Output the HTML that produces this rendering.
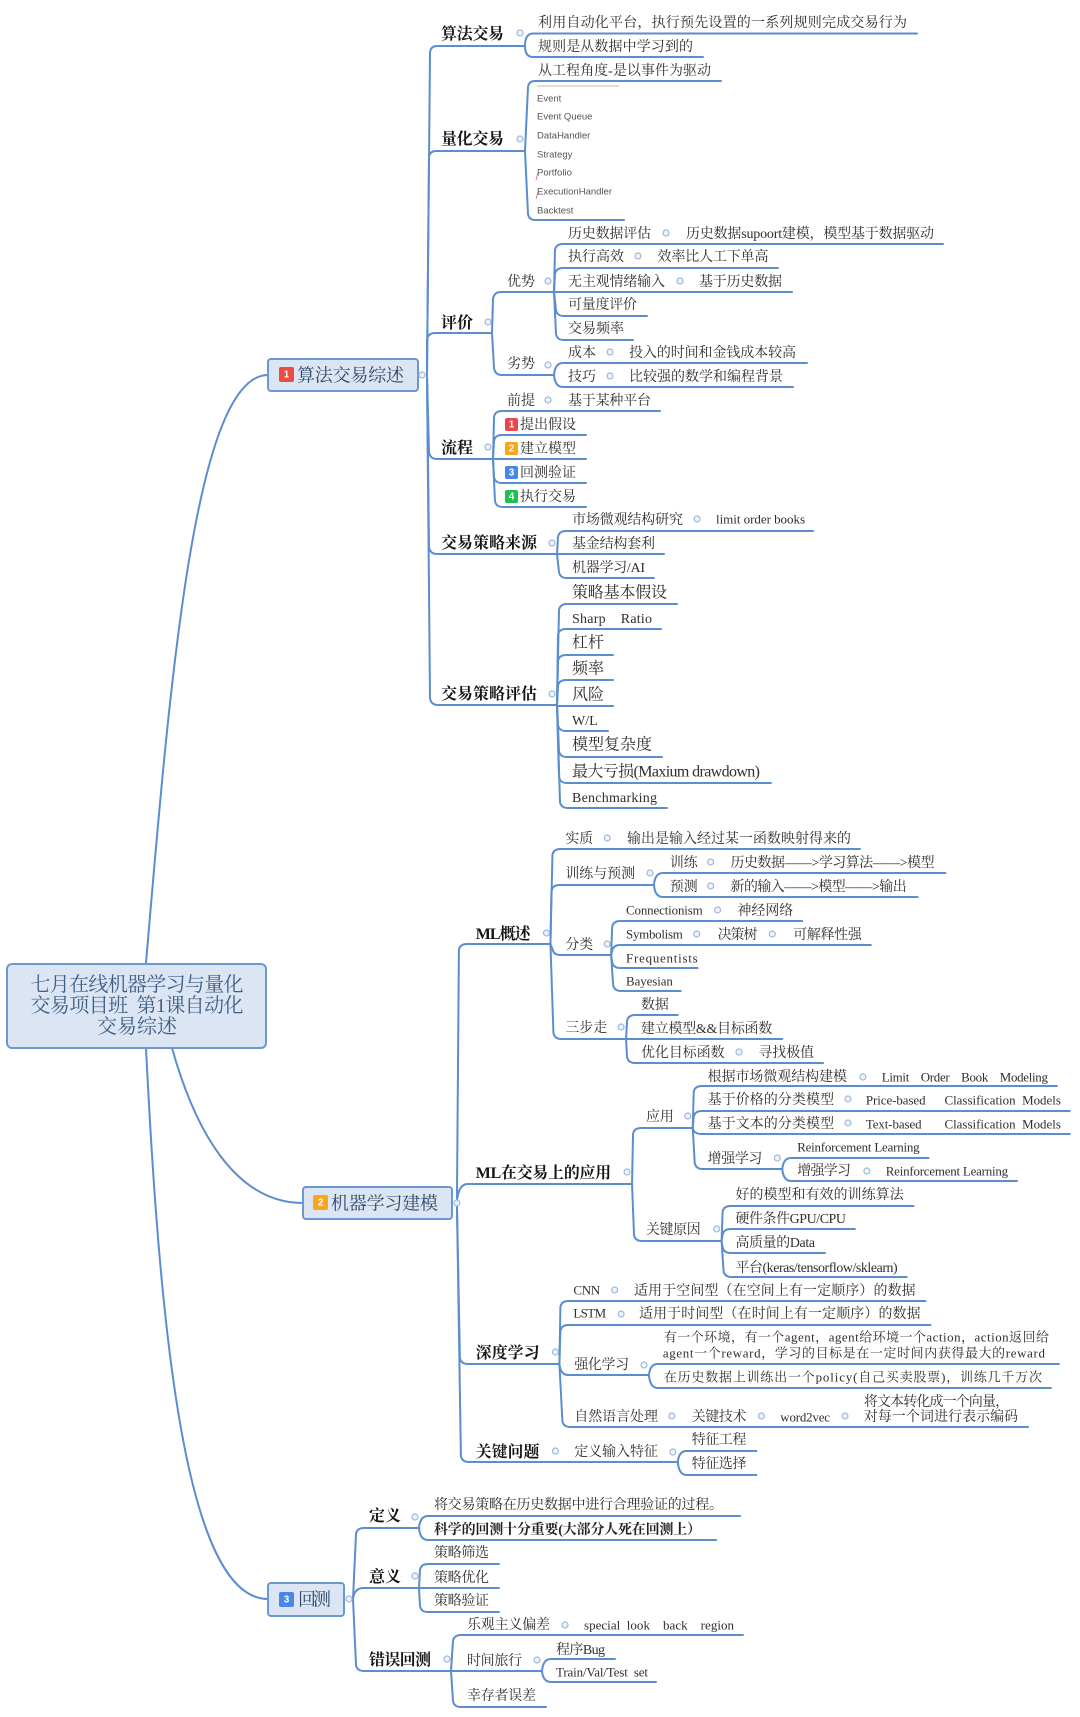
<!DOCTYPE html>
<html lang="zh"><head><meta charset="utf-8"><title>七月在线机器学习与量化交易项目班</title>
<style>
html,body{margin:0;padding:0;background:#fff}
svg{display:block;filter:blur(.35px)}
text{font-family:"Liberation Serif","Noto Serif CJK SC",serif;font-size:14px;fill:#2e2e2e;dominant-baseline:central;white-space:pre;transform:translateY(1.5px)}
.b{font-size:16px;font-weight:700;fill:#151515}
.l{font-size:16px;transform:translateY(1px)}
.s{font-size:13px;transform:none}
.e{font-family:"Liberation Sans",sans-serif;font-size:9.5px;fill:#555;transform:none}
.t{font-size:18px;fill:#2f4a68}
.r{font-size:20px;fill:#3f5f85;text-anchor:middle;transform:translateY(2px)}
.n{font-family:"Liberation Sans",sans-serif;font-size:10px;fill:#fff;text-anchor:middle;font-weight:700;transform:none}
.p path{fill:none;stroke:#5b8dcf;stroke-width:2;stroke-linecap:round}
.c circle{fill:#eef3fa;stroke:#9db8de;stroke-width:1.2}
.box{fill:#dbe5f3;stroke:#6b98d2;stroke-width:2}
</style></head><body>
<svg xmlns="http://www.w3.org/2000/svg" width="1080" height="1717" viewBox="0 0 1080 1717">
<g class="p">
<path d="M146 963C170 680 195 375 268 375"/>
<path d="M172 1048C195 1130 235 1203 303 1203"/>
<path d="M146 1048C160 1330 185 1599 268 1599"/>
<!-- topic 1 -->
<path d="M427 375L430 52Q431 46 437 46H525"/>
<path d="M427 375L429 157Q430 151 436 151H525"/>
<path d="M427 375V340Q428 333 435 333H492"/>
<path d="M427 375L429 452Q430 459 437 459H493"/>
<path d="M427 375L429 547Q430 554 437 554H557"/>
<path d="M427 375L430 698Q431 705 438 705H557"/>
<path d="M525 46Q525 33.5 533 33.5H917"/>
<path d="M525 46Q525 57 533 57H703"/>
<path d="M525 151L528 87Q529 81 535 81H721"/>
<path d="M525 151L528 214Q529 220 535 220H624"/>
<path d="M492 333L493 299Q494 292 501 292H554"/>
<path d="M492 333L494 368Q495 375 502 375H554"/>
<path d="M554 292L555 250Q556 244 563 244H943"/>
<path d="M554 292L555 274Q556 268 563 268H778"/>
<path d="M554 292H792"/>
<path d="M554 292L556 310Q557 316 564 316H647"/>
<path d="M554 292L556 334Q557 340 564 340H633"/>
<path d="M554 375Q555 363 563 363H807"/>
<path d="M554 375Q555 387 563 387H793"/>
<path d="M493 459L494 417Q495 411 502 411H660"/>
<path d="M493 459L494 441Q495 435 502 435H586"/>
<path d="M493 459H586"/>
<path d="M493 459L494 477Q495 483 502 483H586"/>
<path d="M493 459L495 501Q496 507 503 507H586"/>
<path d="M557 554L558 537Q559 531 566 531H813"/>
<path d="M557 554H664"/>
<path d="M557 554L559 572Q560 578 567 578H654"/>
<path d="M557 705L559 610Q560 604 567 604H677"/>
<path d="M557 705L558 635Q559 629 566 629H661"/>
<path d="M557 705L558 661Q559 655 566 655H613"/>
<path d="M557 705L558 686Q559 680 566 680H613"/>
<path d="M557 705V706H613"/>
<path d="M557 705L558 725Q559 731 566 731H608"/>
<path d="M557 705L559 751Q560 757 567 757H662"/>
<path d="M557 705L559 777Q560 783 567 783H771"/>
<path d="M557 705L560 802Q561 808 568 808H667"/>
<!-- topic 3 -->
<path d="M353 1599L356 1534Q357 1528 364 1528H419"/>
<path d="M353 1599Q354 1588 364 1588H419"/>
<path d="M353 1599L356 1665Q357 1671 364 1671H451"/>
<path d="M419 1528Q420 1516 428 1516H740"/>
<path d="M419 1528Q420 1540 428 1540H716"/>
<path d="M419 1588L420 1570Q421 1564 428 1564H499"/>
<path d="M419 1588H499"/>
<path d="M419 1588L420 1606Q421 1612 428 1612H499"/>
<path d="M451 1671L453 1641Q454 1635 461 1635H743"/>
<path d="M451 1671H542"/>
<path d="M451 1671L453 1701Q454 1707 461 1707H546"/>
<path d="M542 1671Q543 1659 551 1659H615"/>
<path d="M542 1671Q543 1682 551 1682H656"/>
</g>
<g class="p" transform="translate(440 0) scale(.995 1) translate(-440 0)">
<!-- topic 2 -->
<path d="M457 1203L459 950Q460 944 467 944H551"/>
<path d="M457 1203Q458 1184 468 1184H633"/>
<path d="M457 1203L460 1358Q461 1364 468 1364H560"/>
<path d="M457 1203L461 1456Q462 1462 469 1462H679"/>
<path d="M551 944L553 855Q554 849 561 849H862"/>
<path d="M551 944L552 891Q553 885 560 885H655"/>
<path d="M551 944L553 949Q554 955 561 955H612"/>
<path d="M551 944L554 1033Q555 1039 562 1039H627"/>
<path d="M655 885Q656 873 664 873H948"/>
<path d="M655 885Q656 897 664 897H920"/>
<path d="M612 955L613 927Q614 921 621 921H804"/>
<path d="M612 955L613 951Q614 945 621 945H873"/>
<path d="M612 955L613 962Q614 968 621 968H699"/>
<path d="M612 955L614 985Q615 991 622 991H682"/>
<path d="M627 1039L628 1021Q629 1015 636 1015H679"/>
<path d="M627 1039H784"/>
<path d="M627 1039L628 1057Q629 1063 636 1063H825"/>
<path d="M633 1184L634 1134Q635 1128 642 1128H694"/>
<path d="M633 1184L635 1235Q636 1241 643 1241H723"/>
<path d="M694 1128L695 1092Q696 1086 703 1086H1060"/>
<path d="M694 1128L695 1117Q696 1111 703 1111H1073"/>
<path d="M694 1128Q695 1134 703 1134H1073"/>
<path d="M694 1128L696 1163Q697 1169 704 1169H784"/>
<path d="M784 1169Q785 1158 793 1158H931"/>
<path d="M784 1169Q785 1181 793 1181H1020"/>
<path d="M723 1241L724 1212Q725 1206 732 1206H916"/>
<path d="M723 1241L724 1235Q725 1229 732 1229H857"/>
<path d="M723 1241L724 1247Q725 1253 732 1253H827"/>
<path d="M723 1241L725 1271Q726 1277 733 1277H909"/>
<path d="M560 1364L561 1307Q562 1301 569 1301H928"/>
<path d="M560 1364L561 1331Q562 1325 569 1325H933"/>
<path d="M560 1364Q561 1375 569 1375H650"/>
<path d="M560 1364L563 1421Q564 1427 571 1427H1031"/>
<path d="M650 1375Q651 1364 659 1364H1062"/>
<path d="M650 1375Q651 1388 659 1388H1054"/>
<path d="M679 1462Q680 1451 688 1451H758"/>
<path d="M679 1462Q680 1475 688 1475H758"/>
</g>
<rect class="box" x="7" y="964" width="259" height="84" rx="5"/>
<rect class="box" x="268" y="359" width="150" height="32" rx="3"/>
<rect class="box" x="303" y="1187" width="149" height="32" rx="3"/>
<rect class="box" x="268" y="1583" width="76" height="33" rx="3"/>
<text class="r" x="137" y="983" textLength="213">七月在线机器学习与量化</text>
<text class="r" x="137" y="1004" textLength="213">交易项目班  第1课自动化</text>
<text class="r" x="137" y="1025">交易综述</text>
<rect x="279" y="367" width="15" height="15" rx="2" fill="#ea4b43"/><text class="n" x="286.500" y="375">1</text>
<text class="t" x="297" y="374" textLength="107">算法交易综述</text>
<rect x="313" y="1195" width="15" height="15" rx="2" fill="#f9a61c"/><text class="n" x="320.500" y="1203">2</text>
<text class="t" x="331" y="1202" textLength="107">机器学习建模</text>
<rect x="279" y="1592" width="15" height="15" rx="2" fill="#4a86e8"/><text class="n" x="286.500" y="1600">3</text>
<text class="t" x="298" y="1598" textLength="33">回测</text>
<g class="c">
<circle cx="422" cy="375" r="3"/><circle cx="349" cy="1599" r="3"/>
<circle cx="520" cy="33" r="3"/><circle cx="520" cy="139" r="3"/><circle cx="488" cy="322" r="3"/><circle cx="488" cy="447" r="3"/><circle cx="552" cy="543" r="3"/><circle cx="552" cy="694" r="3"/>
<circle cx="548" cy="281" r="3"/><circle cx="548" cy="365" r="3"/><circle cx="548" cy="400" r="3"/>
<circle cx="666" cy="233" r="3"/><circle cx="638" cy="256" r="3"/><circle cx="680" cy="281" r="3"/><circle cx="610" cy="352" r="3"/><circle cx="610" cy="376" r="3"/><circle cx="697" cy="519" r="3"/>
<circle cx="415" cy="1517" r="3"/><circle cx="415" cy="1576" r="3"/><circle cx="447" cy="1659" r="3"/><circle cx="565" cy="1625" r="3"/><circle cx="537" cy="1660" r="3"/>
</g>
<g class="c" transform="translate(440 0) scale(.995 1) translate(-440 0)">
<circle cx="457" cy="1203" r="3"/>
<circle cx="547" cy="933" r="3"/><circle cx="628" cy="1172" r="3"/><circle cx="556" cy="1352" r="3"/><circle cx="556" cy="1451" r="3"/>
<circle cx="608" cy="838" r="3"/><circle cx="651" cy="873" r="3"/><circle cx="712" cy="862" r="3"/><circle cx="712" cy="886" r="3"/><circle cx="608" cy="944" r="3"/><circle cx="719" cy="910" r="3"/><circle cx="698" cy="934" r="3"/><circle cx="774" cy="934" r="3"/><circle cx="622" cy="1027" r="3"/><circle cx="740.500" cy="1052" r="3"/>
<circle cx="689" cy="1116" r="3"/><circle cx="865" cy="1077" r="3"/><circle cx="850" cy="1099" r="3"/><circle cx="850" cy="1123" r="3"/><circle cx="779" cy="1158" r="3"/><circle cx="869" cy="1171" r="3"/><circle cx="718" cy="1229" r="3"/>
<circle cx="615.500" cy="1290" r="3"/><circle cx="622" cy="1314" r="3"/><circle cx="645" cy="1365" r="3"/><circle cx="673" cy="1416" r="3"/><circle cx="763" cy="1416" r="3"/><circle cx="847" cy="1416" r="3"/><circle cx="674" cy="1452" r="3"/>
</g>
<!-- topic 1 text -->
<text class="b" x="441" y="33" textLength="63">算法交易</text>
<text x="538" y="22" textLength="369">利用自动化平台，执行预先设置的一系列规则完成交易行为</text>
<text x="538" y="46" textLength="155">规则是从数据中学习到的</text>
<text class="b" x="441" y="138" textLength="63">量化交易</text>
<text x="538" y="70" textLength="173">从工程角度-是以事件为驱动</text>
<path d="M537 86H619" stroke="#bbb" stroke-width="1" fill="none"/>
<path d="M538 173L536 180M538 192L536 199" stroke="#e55" stroke-width=".8" fill="none"/>
<text class="e" x="537" y="99">Event</text>
<text class="e" x="537" y="117">Event Queue</text>
<text class="e" x="537" y="136">DataHandler</text>
<text class="e" x="537" y="155">Strategy</text>
<text class="e" x="537" y="173">Portfolio</text>
<text class="e" x="537" y="192">ExecutionHandler</text>
<text class="e" x="537" y="211">Backtest</text>
<text class="b" x="441" y="322">评价</text>
<text x="507" y="281">优势</text>
<text x="568" y="233" textLength="83">历史数据评估</text>
<text x="686" y="233" textLength="248">历史数据supoort建模，模型基于数据驱动</text>
<text x="568" y="256">执行高效</text>
<text x="657.500" y="256" textLength="111">效率比人工下单高</text>
<text x="568" y="281" textLength="97">无主观情绪输入</text>
<text x="699" y="281" textLength="83">基于历史数据</text>
<text x="568" y="304" textLength="69">可量度评价</text>
<text x="568" y="328">交易频率</text>
<text x="507" y="363">劣势</text>
<text x="568" y="352">成本</text>
<text x="629" y="352" textLength="167">投入的时间和金钱成本较高</text>
<text x="568" y="376">技巧</text>
<text x="629" y="376" textLength="154">比较强的数学和编程背景</text>
<text class="b" x="441" y="447">流程</text>
<text x="507" y="400">前提</text>
<text x="568" y="400" textLength="83">基于某种平台</text>
<rect x="505" y="418" width="13" height="13" rx="2" fill="#e8474b"/><text class="n" x="511.500" y="425">1</text>
<text x="520" y="424">提出假设</text>
<rect x="505" y="442" width="13" height="13" rx="2" fill="#f9a61c"/><text class="n" x="511.500" y="449">2</text>
<text x="520" y="448">建立模型</text>
<rect x="505" y="466" width="13" height="13" rx="2" fill="#4a86e8"/><text class="n" x="511.500" y="473">3</text>
<text x="520" y="472">回测验证</text>
<rect x="505" y="490" width="13" height="13" rx="2" fill="#1dc24f"/><text class="n" x="511.500" y="497">4</text>
<text x="520" y="496">执行交易</text>
<text class="b" x="441" y="542" textLength="96">交易策略来源</text>
<text x="572" y="519" textLength="111">市场微观结构研究</text>
<text class="s" x="716" y="519" textLength="89">limit order books</text>
<text x="572" y="543" textLength="83">基金结构套利</text>
<text x="572" y="567" textLength="73">机器学习/AI</text>
<text class="b" x="441" y="693" textLength="96">交易策略评估</text>
<text class="l" x="572" y="592" textLength="95">策略基本假设</text>
<text x="572" y="618" textLength="80">Sharp    Ratio</text>
<text class="l" x="572" y="642">杠杆</text>
<text class="l" x="572" y="668">频率</text>
<text class="l" x="572" y="694">风险</text>
<text x="572" y="720">W/L</text>
<text class="l" x="572" y="744" textLength="80">模型复杂度</text>
<text class="l" x="572" y="771" textLength="188">最大亏损(Maxium drawdown)</text>
<text x="572" y="797" textLength="85">Benchmarking</text>
<!-- topic 2 text -->
<g transform="translate(440 0) scale(.995 1) translate(-440 0)">
<text class="b" x="476" y="933" textLength="55">ML概述</text>
<text x="566" y="838">实质</text>
<text x="628" y="838" textLength="225">输出是输入经过某一函数映射得来的</text>
<text x="566" y="873" textLength="70">训练与预测</text>
<text x="671" y="862">训练</text>
<text x="732" y="862" textLength="205">历史数据——&gt;学习算法——&gt;模型</text>
<text x="671" y="886">预测</text>
<text x="732" y="886" textLength="177">新的输入——&gt;模型——&gt;输出</text>
<text x="566" y="944">分类</text>
<text class="s" x="627" y="910" textLength="77">Connectionism</text>
<text x="739" y="910">神经网络</text>
<text class="s" x="627" y="934" textLength="57">Symbolism</text>
<text x="719" y="934" textLength="40">决策树</text>
<text x="795" y="934" textLength="69">可解释性强</text>
<text class="s" x="627" y="958" textLength="72">Frequentists</text>
<text class="s" x="627" y="981" textLength="47">Bayesian</text>
<text x="566" y="1027" textLength="42">三步走</text>
<text x="642" y="1004">数据</text>
<text x="642" y="1028" textLength="132">建立模型&amp;&amp;目标函数</text>
<text x="642" y="1052" textLength="84">优化目标函数</text>
<text x="760" y="1052">寻找极值</text>
<text class="b" x="476" y="1172" textLength="136">ML在交易上的应用</text>
<text x="647" y="1116">应用</text>
<text x="709" y="1076" textLength="140">根据市场微观结构建模</text>
<text class="s" x="884" y="1077" textLength="167">Limit    Order    Book    Modeling</text>
<text x="709" y="1099" textLength="127">基于价格的分类模型</text>
<text class="s" x="868" y="1100" textLength="60">Price-based</text>
<text class="s" x="947" y="1100" textLength="117">Classification  Models</text>
<text x="709" y="1123" textLength="127">基于文本的分类模型</text>
<text class="s" x="868" y="1124" textLength="56">Text-based</text>
<text class="s" x="947" y="1124" textLength="117">Classification  Models</text>
<text x="709" y="1158" textLength="55">增强学习</text>
<text class="s" x="799" y="1147" textLength="123">Reinforcement Learning</text>
<text x="799" y="1170" textLength="54">增强学习</text>
<text class="s" x="888" y="1171" textLength="123">Reinforcement Learning</text>
<text x="647" y="1229" textLength="55">关键原因</text>
<text x="737" y="1194" textLength="169">好的模型和有效的训练算法</text>
<text x="737" y="1218" textLength="111">硬件条件GPU/CPU</text>
<text x="737" y="1242" textLength="80">高质量的Data</text>
<text x="737" y="1267" textLength="163">平台(keras/tensorflow/sklearn)</text>
<text class="b" x="476" y="1352" textLength="64">深度学习</text>
<text class="s" x="574" y="1290" textLength="27">CNN</text>
<text x="635" y="1290" textLength="283">适用于空间型（在空间上有一定顺序）的数据</text>
<text class="s" x="574" y="1313" textLength="33">LSTM</text>
<text x="640" y="1313" textLength="283">适用于时间型（在时间上有一定顺序）的数据</text>
<text x="575" y="1364" textLength="55">强化学习</text>
<text class="s" x="665" y="1337" textLength="387">有一个环境，有一个agent，agent给环境一个action，action返回给</text>
<text class="s" x="664" y="1353" textLength="384">agent一个reward，学习的目标是在一定时间内获得最大的reward</text>
<text class="s" x="665" y="1377" textLength="380">在历史数据上训练出一个policy(自己买卖股票)，训练几千万次</text>
<text x="575" y="1416" textLength="84">自然语言处理</text>
<text x="693" y="1416" textLength="55">关键技术</text>
<text class="s" x="782" y="1417" textLength="50">word2vec</text>
<text x="866" y="1401" textLength="146">将文本转化成一个向量，</text>
<text x="866" y="1416" textLength="155">对每一个词进行表示编码</text>
<text class="b" x="476" y="1451" textLength="64">关键问题</text>
<text x="575" y="1451" textLength="84">定义输入特征</text>
<text x="693" y="1439" textLength="55">特征工程</text>
<text x="693" y="1463" textLength="55">特征选择</text>
</g>
<!-- topic 3 text -->
<text class="b" x="369" y="1515">定义</text>
<text x="434" y="1504" textLength="289">将交易策略在历史数据中进行合理验证的过程。</text>
<text x="434" y="1529" textLength="267" style="font-weight:700;fill:#222">科学的回测十分重要(大部分人死在回测上）</text>
<text class="b" x="369" y="1576">意义</text>
<text x="434" y="1552" textLength="55">策略筛选</text>
<text x="434" y="1577" textLength="55">策略优化</text>
<text x="434" y="1600" textLength="55">策略验证</text>
<text class="b" x="369" y="1659" textLength="62">错误回测</text>
<text x="467" y="1624" textLength="83">乐观主义偏差</text>
<text class="s" x="584" y="1625" textLength="150">special  look    back    region</text>
<text x="467" y="1660" textLength="55">时间旅行</text>
<text x="556" y="1649" textLength="49">程序Bug</text>
<text class="s" x="556" y="1672" textLength="92">Train/Val/Test  set</text>
<text x="467" y="1695" textLength="69">幸存者误差</text>
</svg>
</body></html>
